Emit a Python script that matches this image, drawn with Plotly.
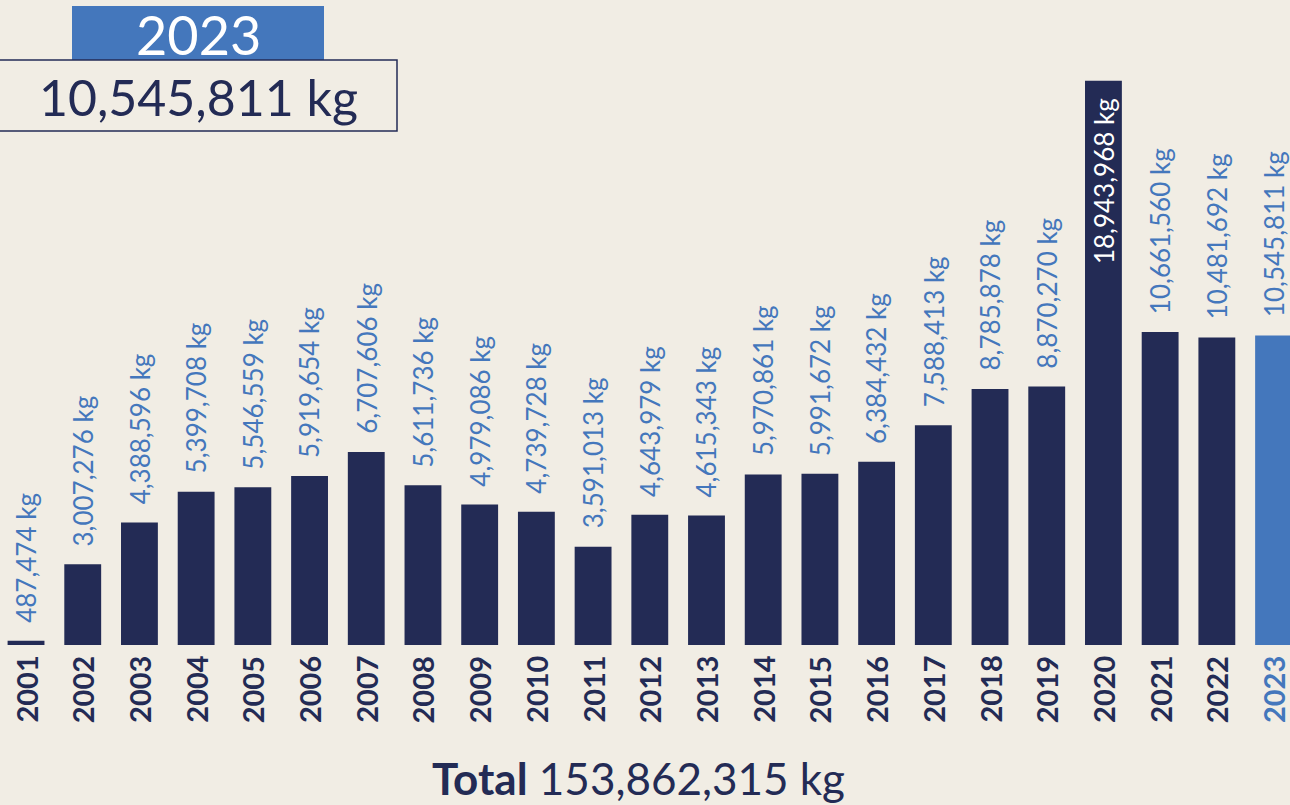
import plotly.graph_objects as go

# data
years = list(range(2001, 2024))
values = [487474, 3007276, 4388596, 5399708, 5546559, 5919654, 6707606,
          5611736, 4979086, 4739728, 3591013, 4643979, 4615343, 5970861,
          5991672, 6384432, 7588413, 8785878, 8870270, 18943968, 10661560,
          10481692, 10545811]
highlight_year = 2023
total_kg = 153862315

NAVY = '#232b55'
BLUE = '#4477bc'
BG = '#f1ede4'
FONT = 'Lato'

W, H = 1290, 805
PLOT_BOTTOM = 645  # px of bar baseline


def py(px_y):
    # pixel y (from top) -> paper y
    return 1 - px_y / PLOT_BOTTOM


def px(px_x):
    return px_x / W


bar_colors = [BLUE if y == highlight_year else NAVY for y in years]

fig = go.Figure(go.Bar(x=years, y=values, width=0.65, marker=dict(color=bar_colors, line=dict(width=0)),
                       hoverinfo='x+y'))

annotations = []
for y, v in zip(years, values):
    label = f'{v:,} kg'
    if v == max(values):
        annotations.append(dict(x=y, y=v, text=label, textangle=-90, showarrow=False,
                                yanchor='top', yshift=-15, font=dict(family=FONT, size=26, color='white')))
    else:
        annotations.append(dict(x=y, y=v, text=label, textangle=-90, showarrow=False,
                                yanchor='bottom', yshift=16, font=dict(family=FONT, size=26, color=BLUE)))
    # year labels under the bars
    annotations.append(dict(x=y, y=0, yref='paper', text=f'<b>{y}</b>', textangle=-90, showarrow=False,
                            yanchor='top', yshift=-9,
                            font=dict(family=FONT, size=29, color=BLUE if y == highlight_year else NAVY)))

# highlight box
hl_value = values[years.index(highlight_year)]
annotations.append(dict(xref='paper', yref='paper', x=px(198), y=py(35), xanchor='center', yanchor='middle',
                        text=str(highlight_year), showarrow=False, font=dict(family=FONT, size=54, color='white')))
annotations.append(dict(xref='paper', yref='paper', x=px(198), y=py(97), xanchor='center', yanchor='middle',
                        text=f'{hl_value:,} kg', showarrow=False, font=dict(family=FONT, size=50, color=NAVY)))
# total
annotations.append(dict(xref='paper', yref='paper', x=px(638), y=py(778), xanchor='center', yanchor='middle',
                        text=f'<b>Total</b> {total_kg:,} kg', showarrow=False,
                        font=dict(family=FONT, size=44, color=NAVY)))

shapes = [
    dict(type='rect', xref='paper', yref='paper', x0=px(72), x1=px(324), y0=py(60), y1=py(6),
         fillcolor=BLUE, line=dict(width=0)),
    dict(type='rect', xref='paper', yref='paper', x0=px(-2), x1=px(397), y0=py(131), y1=py(60),
         fillcolor='rgba(0,0,0,0)', line=dict(color=NAVY, width=1.5)),
]

ymin = 350000
ymax = ymin + PLOT_BOTTOM / 30.35 * 1e6

fig.update_layout(
    width=W, height=H,
    margin=dict(l=0, r=0, t=0, b=H - PLOT_BOTTOM),
    paper_bgcolor=BG, plot_bgcolor=BG,
    showlegend=False,
    xaxis=dict(range=[2000.541, 2023.29], showticklabels=False, showgrid=False, zeroline=False, fixedrange=True),
    yaxis=dict(range=[ymin, ymax], visible=False, showgrid=False, fixedrange=True),
    annotations=annotations,
    shapes=shapes,
)

fig.write_html('out.html', config={'displayModeBar': False},
               post_script="document.body.style.margin='0';document.body.style.overflow='hidden';")
